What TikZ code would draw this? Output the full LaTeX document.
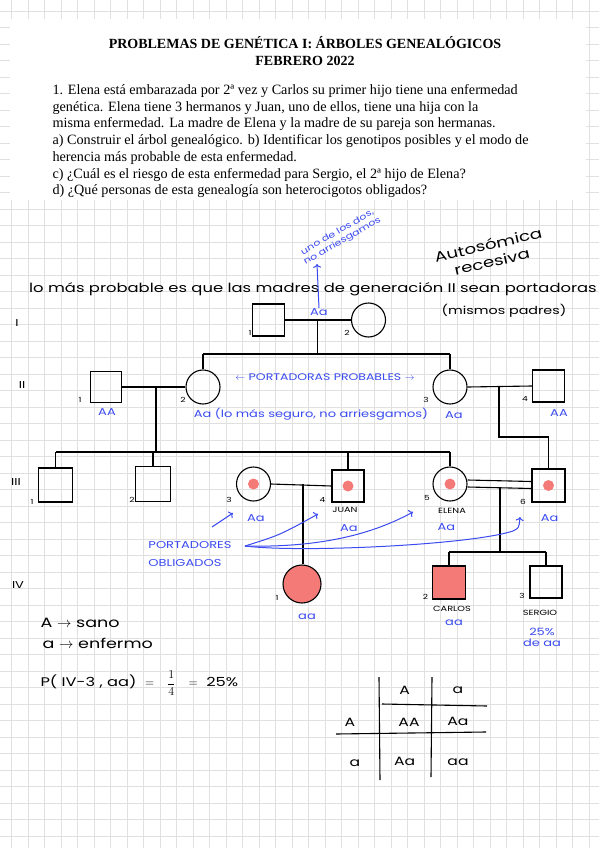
\documentclass[tikz,border=0pt]{standalone}
\usepackage{fontspec}
\setmainfont{Liberation Serif}
\newfontfamily\hand[FakeStretch=1.3]{Poppins}
\usetikzlibrary{calc,arrows.meta}

\definecolor{penblue}{HTML}{3B4BF0}
\definecolor{penred}{HTML}{F47A78}
\definecolor{gridgray}{HTML}{E0E0E0}

\begin{document}
\begin{tikzpicture}[x=1pt,y=-1pt,line width=1.1pt,
  male/.style={draw,minimum size=32pt,inner sep=0pt},
  female/.style={draw,circle,minimum size=34pt,inner sep=0pt},
  carrier/.style={fill=penred,circle,minimum size=11pt,inner sep=0pt},
  num/.style={font=\hand\fontsize{7}{8}\selectfont,inner sep=0pt},
  gen/.style={font=\hand\fontsize{10}{11}\selectfont,inner sep=0pt},
  geno/.style={text=penblue,font=\hand\fontsize{10}{11}\selectfont,inner sep=0pt},
  who/.style={font=\hand\fontsize{7.5}{8}\selectfont,inner sep=0pt},
  pen/.style={penblue,line width=1pt,->},
  hand/.style={font=\hand\fontsize{11}{13}\selectfont,inner sep=0pt}]

% ---- hoja cuadriculada ----
\fill[white] (0,0) rectangle (599,848);
\useasboundingbox (0,0) rectangle (599,848);
\foreach \k in {0,...,35}
  \draw[gridgray,line width=0.8pt] ({11.7+16.5*\k},0) -- ({11.7+16.5*\k},848);
\foreach \k in {-47,...,3}
  \draw[gridgray,line width=0.8pt] (0,{786.7+16.5*\k}) -- (599,{786.7+16.5*\k});
\fill[white] (10,19) rectangle (586,200);

% ---- enunciado ----
\node[font=\bfseries\fontsize{14}{17}\selectfont,align=center,anchor=north,inner sep=0pt]
  (titulo) at (305,36) {PROBLEMAS DE GENÉTICA I: ÁRBOLES GENEALÓGICOS\\FEBRERO 2022};
\node[font=\fontsize{14.2}{16.7}\selectfont,align=left,anchor=north west,inner sep=0pt]
  (problema) at (52,84)
  {1. Elena está embarazada por 2ª vez y Carlos su primer hijo tiene una enfermedad\\
   genética. Elena tiene 3 hermanos y Juan, uno de ellos, tiene una hija con la\\
   misma enfermedad. La madre de Elena y la madre de su pareja son hermanas.\\
   a) Construir el árbol genealógico. b) Identificar los genotipos posibles y el modo de\\
   herencia más probable de esta enfermedad.\\
   c) ¿Cuál es el riesgo de esta enfermedad para Sergio, el 2ª hijo de Elena?\\
   d) ¿Qué personas de esta genealogía son heterocigotos obligados?};

% ---- notas de arriba ----
\node[hand,font=\hand\fontsize{12.6}{13}\selectfont] (hipotesis) at (313,289)
  {lo más probable es que las madres de generación II sean portadoras};
\node[hand] (padres) at (504,311) {(mismos padres)};
\node[font=\hand\fontsize{14}{17}\selectfont,rotate=13,align=center] (modo) at (490,253)
  {Autosómica\\recesiva};
\node[text=penblue,font=\hand\fontsize{8.5}{10}\selectfont,rotate=30,align=center] (nota)
  at (340,237) {uno de los dos,\\no arriesgamos};

% ---- generaciones ----
\node[gen] (gI)   at (17,323) {I};
\node[gen] (gII)  at (22,385) {II};
\node[gen] (gIII) at (16,482) {III};
\node[gen] (gIV)  at (18,585) {IV};

% ---- individuos ----
\node[male]   (I1)   at (268.5,320) {};
\node[female] (I2)   at (368.5,320) {};
\node[male,minimum size=31pt] (II1) at (106,387) {};
\node[female] (II2)  at (203,387) {};
\node[female] (II3)  at (450,387) {};
\node[male]   (II4)  at (548.5,386) {};
\node[male,minimum size=34pt] (III1) at (55.5,485) {};
\node[male,minimum size=35pt] (III2) at (153,484) {};
\node[female] (III3) at (253.5,484) {};
\node[male]   (III4) at (348,486) {};
\node[female] (III5) at (450,484) {};
\node[male,minimum size=33pt] (III6) at (548.5,485.5) {};
\node[female,fill=penred,minimum size=38pt] (IV1) at (302,584) {};
\node[male,fill=penred,minimum size=33pt] (IV2) at (449,582.5) {};
\node[male]   (IV3) at (546,582) {};
\foreach \p in {III3,III4,III5,III6}
  \node[carrier] (d\p) at (\p.center) {};

% numeros
\foreach \nm/\x/\y/\t in {nI1/250/333/1,nI2/347/333/2,
    nII1/80/400/1,nII2/183/400/2,nII3/426/400/3,nII4/525/399/4,
    nIII1/32/502/1,nIII2/132/500/2,nIII3/229/500/3,nIII4/322.5/500/4,
    nIII5/427/498/5,nIII6/523/502/6,
    nIV1/277/598/1,nIV2/425.5/597/2,nIV3/522/596/3}
  \node[num] (\nm) at (\x,\y) {\t};

% ---- lineas de parentesco ----
\draw (I1) -- (I2);
\coordinate (mI) at (317.5,320);
\coordinate (sII) at (317.5,354);
\draw (mI) -- (sII);
\draw (II2.north |- sII) -- (II3.north |- sII);
\draw (II2.north |- sII) -- (II2.north);
\draw (II3.north |- sII) -- (II3.north);

\draw (II1.east) -- (II2.west);
\coordinate (mII12) at (156,387);
\coordinate (sIII) at (156,452);
\draw (mII12) -- (sIII);
\draw (III1.north |- sIII) -- (III5.north |- sIII);
\foreach \c in {III1,III2,III4,III5}
  \draw (\c.north |- sIII) -- (\c.north);

\draw (II3.east) -- (II4.west);
\coordinate (mII34) at (499,387);
\coordinate (kII34) at (499,437);
\draw (mII34) -- (kII34) -| (III6.north);

\draw (III3.east) -- (III4.west);
\coordinate (mIII34) at (303,484);
\draw (mIII34) -- (mIII34 |- IV1.north);

% pareja consanguinea
\draw ([yshift=4pt]III5.east) -- ([yshift=4pt]III6.west);
\draw ([yshift=-3pt]III5.east) -- ([yshift=-3pt]III6.west);
\coordinate (mIII56) at (500,487);
\coordinate (sIV) at (500,552);
\draw (mIII56) -- (sIV);
\draw (IV2.north |- sIV) -- (IV3.north |- sIV);
\draw (IV2.north |- sIV) -- (IV2.north);
\draw (IV3.north |- sIV) -- (IV3.north);

% ---- genotipos ----
\node[geno] (aI)    at (319,312) {Aa};
\draw[pen] (aI.north) -- (317,264);
\node[geno] (aII1)  at (107,412) {AA};
\node[geno] (aII2)  at (311,414) {Aa (lo más seguro, no arriesgamos)};
\node[geno] (aII3)  at (454,415) {Aa};
\node[geno] (aII4)  at (559,413) {AA};
\node[geno,font=\hand\fontsize{9.6}{10}\selectfont] (probables) at (325,377)
  {$\leftarrow$ PORTADORAS PROBABLES $\rightarrow$};
\node[geno] (aIII3) at (256,518) {Aa};
\node[geno] (aIII4) at (349,528) {Aa};
\node[geno] (aIII5) at (446.5,527) {Aa};
\node[geno] (aIII6) at (549.6,518) {Aa};
\node[geno] (aIV1)  at (307,617) {aa};
\node[geno] (aIV2)  at (454,623) {aa};
\node[geno,align=center,font=\hand\fontsize{10}{11}\selectfont] (aIV3) at (542,637) {25\%\\de aa};

\node[who] (juan)   at (345,510) {JUAN};
\node[who] (elena)  at (452,511) {ELENA};
\node[who] (carlos) at (452,609) {CARLOS};
\node[who] (sergio) at (540,613) {SERGIO};

% ---- portadores obligados ----
\node[geno,align=left,font=\hand\fontsize{10}{18}\selectfont] (oblig) at (190,554)
  {PORTADORES\\OBLIGADOS};
\coordinate (o) at (245,546);
\draw[pen] (212,527) -- (233,513);
\draw[pen] (o) .. controls (280,535) .. (318,514);
\draw[pen] (o) .. controls (330,548) and (380,530) .. (413,512);
\draw[pen] (o) .. controls (300,553) and (470,545) .. (513,531)
  .. controls (519,528) .. (520,517);

% ---- leyenda y calculo ----
\node[hand,anchor=west,font=\hand\fontsize{13.5}{14}\selectfont] (sano) at (40,623)
  {A $\rightarrow$ sano};
\node[hand,anchor=west,font=\hand\fontsize{13.5}{14}\selectfont] (enfermo) at (42,643)
  {a $\rightarrow$ enfermo};
\node[hand,anchor=west,font=\hand\fontsize{12.5}{13}\selectfont] (riesgo) at (40,683)
  {P( IV-3 , aa) \ $=$ \ \ $\displaystyle\frac{1}{4}$ \ \ $=$ \ 25\%};

% ---- cuadro de Punnett ----
\draw (379,677) -- (380,780);
\draw (432,677) -- (431,777);
\draw (382,704) -- (487,706);
\draw (336,734) -- (486,732);
\foreach \nm/\x/\y/\t in {cA/404.6/690/A,ca/458/690/a,fA/350/722/A,fa/355/763/a,
    AA/409/722/AA,Aa1/458/721/Aa,Aa2/404.6/761/Aa,aa/458/762/aa}
  \node[hand,font=\hand\fontsize{12}{13}\selectfont] (\nm) at (\x,\y) {\t};

\end{tikzpicture}
\end{document}
